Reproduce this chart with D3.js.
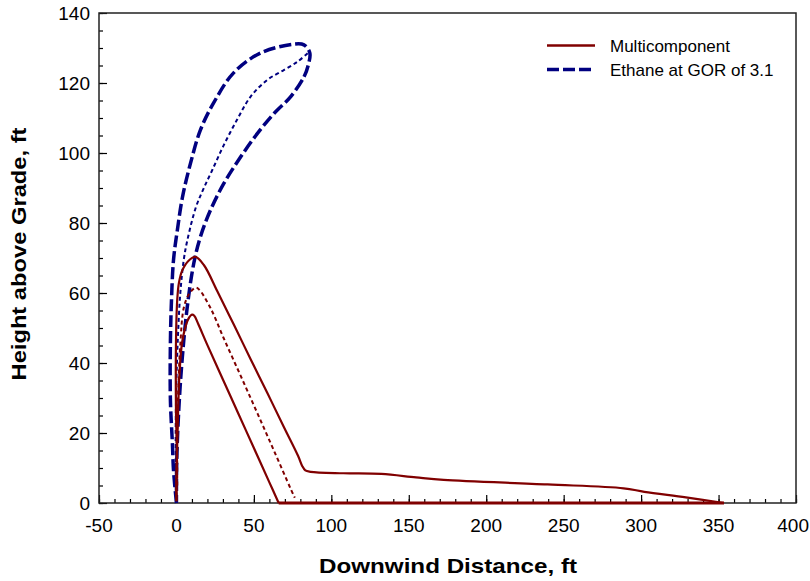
<!DOCTYPE html>
<html>
<head>
<meta charset="utf-8">
<script src="https://cdn.jsdelivr.net/npm/d3@7"></script>
<style>
  body { margin: 0; background: #fff; }
  svg text { font-family: "Liberation Sans", Arial, sans-serif; }
</style>
</head>
<body>
<div id="chart"></div>
<script>
// Multicomponent contours: outer solid, ground run, inner solid, middle dotted
const multiOuter = [
  [0, 0.5], [0, 5], [0.3, 12.9], [-0.3, 26.6], [-0.3, 46], [0.5, 58], [1.6, 62.9],
  [3.7, 66.4], [8, 69.3], [12.3, 70.3], [17.7, 68], [26.4, 60.5], [37.1, 50.9],
  [47.9, 41.1], [58.7, 31.4], [69.5, 21.6], [78.5, 13.5], [81.2, 10.6], [83.2, 9.3],
  [86.6, 8.9], [107.8, 8.5], [132.3, 8.3], [154.7, 7.3], [172.5, 6.6], [239.6, 5.3],
  [288.7, 4.2], [302.1, 3.2], [328.9, 1.6], [353.5, 0]
];
const multiGround = [[353.5, 0], [66, 0]];
const multiInner = [
  [66, 0], [60, 5.9], [50, 15.7], [40, 25.5], [30, 35.3], [20, 45.1], [14, 51.2],
  [11.5, 53.5], [10, 53.8], [8.2, 53], [6.9, 51.8], [3.7, 46], [1.9, 36.3],
  [1.1, 26.6], [0.5, 16.9], [0, 7.1], [0, 0.5]
];
const multiDotted = [
  [0.5, 5], [0.5, 8.1], [0.5, 16.9], [1.1, 31.4], [2.6, 46], [4.7, 55.7], [8, 59.6],
  [12.3, 61.5], [14.4, 61.1], [22, 55.7], [30.6, 47], [41.5, 36.3], [52.3, 25.6],
  [63, 14.9], [73.8, 4], [76.4, 1.5]
];

// Ethane contours: outer loop (thick dashed), middle (thin dotted)
const ethaneOuter = [
  [0, 0], [-1.9, 9.4], [-2.6, 16.9], [-3.9, 29.4], [-3.9, 46], [-3.2, 58], [-1.9, 69.4],
  [0.6, 78], [3.9, 87.4], [9.1, 97.1], [15.5, 106.6], [24, 114.3], [36.9, 122.9],
  [54.4, 128.6], [75.8, 131.1], [82.3, 130.9], [86.1, 128.6], [84.9, 124.8],
  [82.4, 121.8], [73.8, 116.1], [63, 111.3], [52.3, 105.6], [41.5, 98.9], [30.6, 91.3],
  [22, 83.7], [15.5, 76.1], [11.2, 68.5], [6.9, 55.7], [3.7, 41.1], [1.5, 26.6],
  [0.2, 12], [0, 0]
];
const ethaneDotted = [
  [84.7, 128.5], [78.2, 126.1], [69.3, 123.7], [58.7, 120.9], [47.9, 116.1],
  [39, 109.4], [30.4, 102.1], [23, 95], [17.5, 89.8], [12.7, 84.7], [7, 75],
  [4.7, 69.4], [2.5, 60], [1, 48], [0, 35], [-0.5, 20], [-0.3, 8], [0, 0]
];

const xTicks = [-50, 0, 50, 100, 150, 200, 250, 300, 350, 400];
const yTicks = [0, 20, 40, 60, 80, 100, 120, 140];
const legendItems = ['Multicomponent', 'Ethane at GOR of 3.1'];

const width = 810;
const height = 581;
const red = '#800000';
const blue = '#000080';

const svg = d3.select('#chart')
    .append('svg')
    .attr('width', width)
    .attr('height', height);

const x = d3.scaleLinear().domain([-50, 400]).range([99, 796]);
const y = d3.scaleLinear().domain([0, 140]).range([503, 13]);

svg.append('defs').append('clipPath').attr('id', 'plot-clip')
    .append('rect')
    .attr('x', x(-50)).attr('y', y(140) - 3)
    .attr('width', x(400) - x(-50)).attr('height', y(0) - y(140) + 6);

// Axes, ticks pointing inward
const xAxisMinor = d3.axisTop(x).ticks(45).tickSize(4).tickFormat('');
const yAxisMinor = d3.axisRight(y).ticks(28).tickSize(4).tickFormat('');
svg.append('g').attr('transform', `translate(0,${y(0)})`).call(xAxisMinor);
svg.append('g').attr('transform', `translate(${x(-50)},0)`).call(yAxisMinor);

const xAxis = d3.axisTop(x).tickValues(xTicks).tickSize(8).tickFormat('');
const yAxis = d3.axisRight(y).tickValues(yTicks).tickSize(8).tickFormat('');
svg.append('g').attr('transform', `translate(0,${y(0)})`).call(xAxis);
svg.append('g').attr('transform', `translate(${x(-50)},0)`).call(yAxis);

svg.selectAll('.domain').remove();
svg.selectAll('.tick line').attr('stroke', '#000').attr('stroke-width', 1.2);

// Tick labels (last one kept inside the page edge)
svg.append('g').selectAll('text')
    .data(xTicks)
    .join('text')
    .attr('x', d => d === 400 ? 809 : x(d))
    .attr('y', 532)
    .attr('text-anchor', d => d === 400 ? 'end' : 'middle')
    .attr('font-size', 19)
    .text(d => d);

svg.append('g').selectAll('text')
    .data(yTicks)
    .join('text')
    .attr('x', 90)
    .attr('y', d => y(d) + 7)
    .attr('text-anchor', 'end')
    .attr('font-size', 19)
    .text(d => d);

// Frame
svg.append('rect')
    .attr('x', x(-50)).attr('y', y(140))
    .attr('width', x(400) - x(-50)).attr('height', y(0) - y(140))
    .attr('fill', 'none')
    .attr('stroke', '#222')
    .attr('stroke-width', 1.5);

// Curves
const line = d3.line()
    .x(d => x(d[0]))
    .y(d => y(d[1]))
    .curve(d3.curveCatmullRom.alpha(0.5));

const plot = svg.append('g').attr('clip-path', 'url(#plot-clip)');

plot.append('path').datum(ethaneDotted)
    .attr('d', line).attr('fill', 'none')
    .attr('stroke', blue).attr('stroke-width', 2)
    .attr('stroke-dasharray', '4,3');

plot.append('path').datum(ethaneOuter)
    .attr('d', line).attr('fill', 'none')
    .attr('stroke', blue).attr('stroke-width', 3.5)
    .attr('stroke-dasharray', '12,4');

plot.append('path').datum(multiDotted)
    .attr('d', line).attr('fill', 'none')
    .attr('stroke', red).attr('stroke-width', 2)
    .attr('stroke-dasharray', '4,3');

[multiOuter, multiGround, multiInner].forEach((seg, i) => {
    plot.append('path').datum(seg)
        .attr('d', line).attr('fill', 'none')
        .attr('stroke', red).attr('stroke-width', i === 1 ? 3 : 2.2)
        .attr('stroke-linejoin', 'round');
});

// Legend
const legend = svg.append('g');
legendItems.forEach((label, i) => {
    const ly = 45.5 + i * 24;
    legend.append('line')
        .attr('x1', 547).attr('x2', 595)
        .attr('y1', ly).attr('y2', ly)
        .attr('stroke', i === 0 ? red : blue)
        .attr('stroke-width', i === 0 ? 2.5 : 3.5)
        .attr('stroke-dasharray', i === 0 ? null : '12,4');
    legend.append('text')
        .attr('x', 610).attr('y', ly + 6)
        .attr('font-size', 17)
        .text(label);
});

// Axis titles
svg.append('text')
    .attr('x', 448).attr('y', 573)
    .attr('text-anchor', 'middle')
    .attr('font-size', 21).attr('font-weight', 'bold')
    .attr('textLength', 258).attr('lengthAdjust', 'spacingAndGlyphs')
    .text('Downwind Distance, ft');

svg.append('text')
    .attr('transform', 'translate(26,254) rotate(-90)')
    .attr('text-anchor', 'middle')
    .attr('font-size', 20).attr('font-weight', 'bold')
    .attr('textLength', 253).attr('lengthAdjust', 'spacingAndGlyphs')
    .text('Height above Grade, ft');
</script>
</body>
</html>
